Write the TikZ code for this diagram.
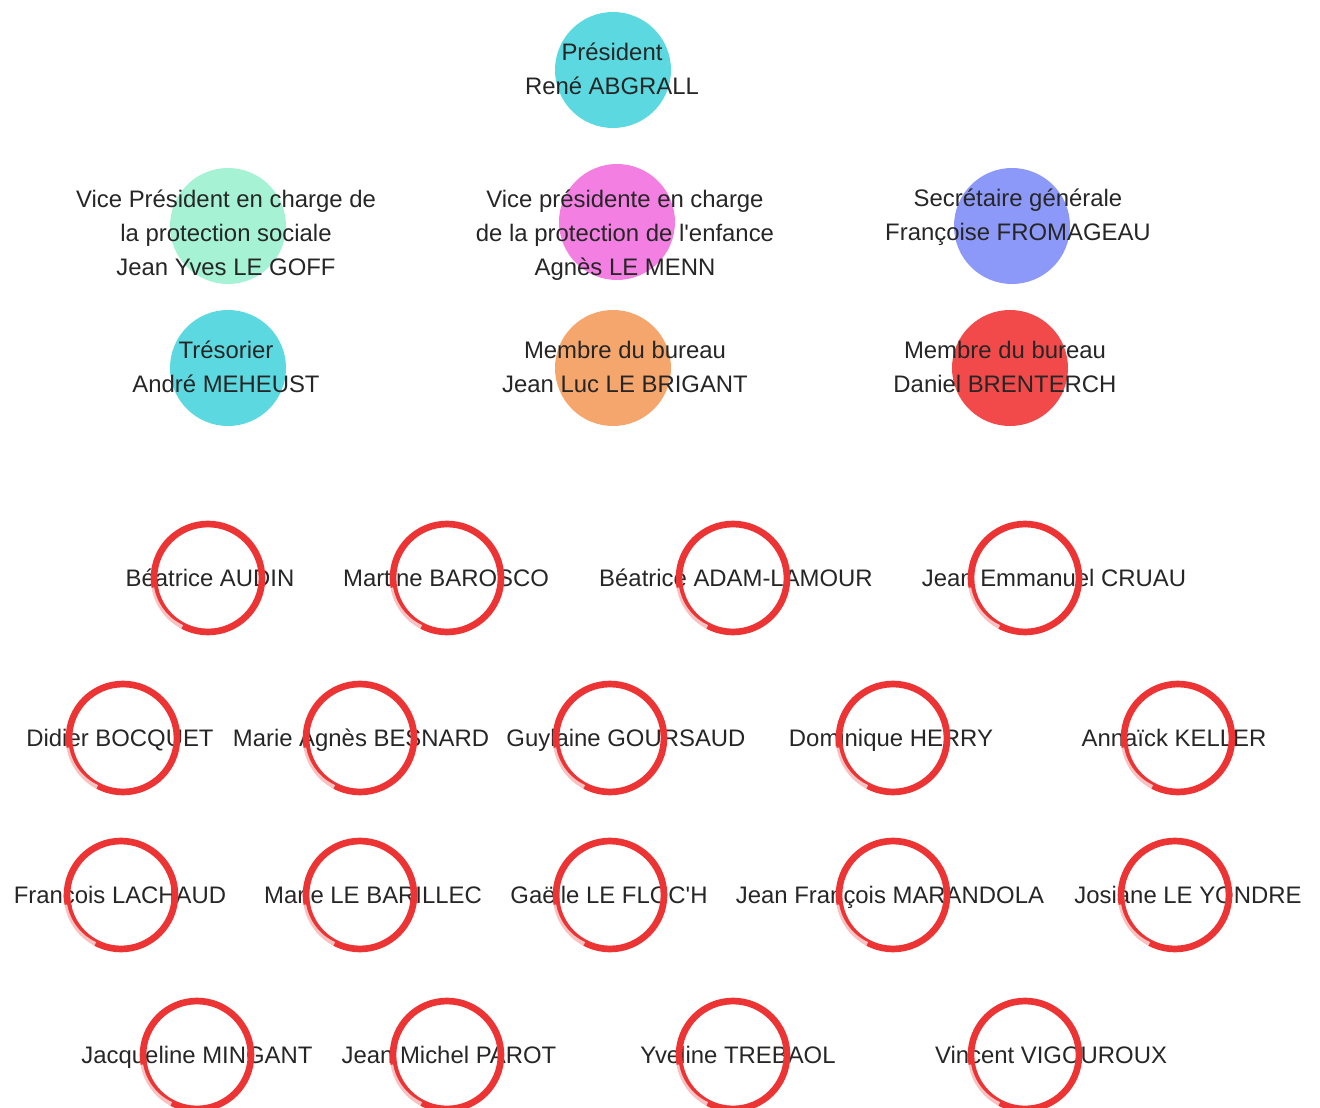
\documentclass[tikz,border=0pt]{standalone}
\usepackage{fontspec}
\setmainfont{Liberation Sans}
\usetikzlibrary{calc}

\definecolor{txtgray}{HTML}{262626}
\definecolor{presblue}{HTML}{5CD9E0}
\definecolor{mint}{HTML}{A6F2D5}
\definecolor{pinky}{HTML}{F47FE2}
\definecolor{lavblue}{HTML}{8C99F8}
\definecolor{orangey}{HTML}{F5A66C}
\definecolor{redfill}{HTML}{F24A4A}
\definecolor{ringred}{HTML}{EC3434}

\tikzset{
  blob/.style={circle, minimum size=2.32cm, inner sep=0pt},
  ring/.style={circle, draw=ringred, line width=3.8pt, minimum size=2.16cm, inner sep=0pt},
  lbl/.style={text=txtgray, align=center, anchor=base, font=\fontsize{13.6}{19.6}\selectfont},
}

\begin{document}
\begin{tikzpicture}[x=0.02cm, y=-0.02cm]
    \useasboundingbox (0,0) rectangle (1320,1108);

    % Bureau
    \node[blob, fill=presblue] (presC) at (613,70) {};
    \node[blob, fill=mint] (vp1C) at (228,226) {};
    \node[blob, fill=pinky] (vp2C) at (617,222) {};
    \node[blob, fill=lavblue] (secC) at (1012,226) {};
    \node[blob, fill=presblue] (tresC) at (228,368) {};
    \node[blob, fill=orangey] (mb1C) at (613,368) {};
    \node[blob, fill=redfill] (mb2C) at (1010,368) {};

    % (base = baseline of the last line)
    \node[lbl] (pres) at (612,95) {Président\\René ABGRALL};
    \node[lbl] (vp1) at (226,276) {Vice Président en charge de\\la protection sociale\\Jean Yves LE GOFF};
    \node[lbl] (vp2) at (625,276) {Vice présidente en charge\\de la protection de l\textquotesingle enfance\\Agnès LE MENN};
    \node[lbl] (sec) at (1018,241) {Secrétaire générale\\Françoise FROMAGEAU};
    \node[lbl] (tres) at (226,393) {Trésorier\\André MEHEUST};
    \node[lbl] (mb1) at (625,393) {Membre du bureau\\Jean Luc LE BRIGANT};
    \node[lbl] (mb2) at (1005,393) {Membre du bureau\\Daniel BRENTERCH};

    % Membres - ligne 1
    \node[lbl] (audin) at (210,586) {Béatrice AUDIN};
    \node[lbl] (barosco) at (446,586) {Martine BAROSCO};
    \node[lbl] (adam) at (736,586) {Béatrice ADAM-LAMOUR};
    \node[lbl] (cruau) at (1054,586) {Jean Emmanuel CRUAU};
    \node[ring] (rAudin) at (208,578) {};
    \node[ring] (rBarosco) at (447,578) {};
    \node[ring] (rAdam) at (733,578) {};
    \node[ring] (rCruau) at (1025,578) {};

    % Membres - ligne 2
    \node[lbl] (bocquet) at (120,746) {Didier BOCQUET};
    \node[lbl] (besnard) at (361,746) {Marie Agnès BESNARD};
    \node[lbl] (goursaud) at (626,746) {Guylaine GOURSAUD};
    \node[lbl] (herry) at (891,746) {Dominique HERRY};
    \node[lbl] (keller) at (1174,746) {Annaïck KELLER};
    \node[ring] (rBocquet) at (123,738) {};
    \node[ring] (rBesnard) at (360,738) {};
    \node[ring] (rGoursaud) at (610,738) {};
    \node[ring] (rHerry) at (893,738) {};
    \node[ring] (rKeller) at (1178,738) {};

    % Membres - ligne 3
    \node[lbl] (lachaud) at (120,903) {François LACHAUD};
    \node[lbl] (barillec) at (373,903) {Marie LE BARILLEC};
    \node[lbl] (floch) at (609,903) {Gaëlle LE FLOC\textquotesingle H};
    \node[lbl] (marandola) at (890,903) {Jean François MARANDOLA};
    \node[lbl] (yondre) at (1188,903) {Josiane LE YONDRE};
    \node[ring] (rLachaud) at (121,895) {};
    \node[ring] (rBarillec) at (360,895) {};
    \node[ring] (rFloch) at (610,895) {};
    \node[ring] (rMarandola) at (893,895) {};
    \node[ring] (rYondre) at (1175,895) {};

    % Membres - ligne 4
    \node[lbl] (mingant) at (197,1063) {Jacqueline MINGANT};
    \node[lbl] (parot) at (449,1063) {Jean Michel PAROT};
    \node[lbl] (trebaol) at (738,1063) {Yveline TREBAOL};
    \node[lbl] (vigouroux) at (1051,1063) {Vincent VIGOUROUX};
    \node[ring] (rMingant) at (197,1055) {};
    \node[ring] (rParot) at (447,1055) {};
    \node[ring] (rTrebaol) at (733,1055) {};
    \node[ring] (rVigouroux) at (1025,1055) {};

    % faded brush end of each ring
    \foreach \r in {rAudin,rBarosco,rAdam,rCruau,rBocquet,rBesnard,rGoursaud,rHerry,rKeller,
                    rLachaud,rBarillec,rFloch,rMarandola,rYondre,rMingant,rParot,rTrebaol,rVigouroux}
        \draw[white, opacity=0.7, line width=3pt] (\r.190) arc (190:245:1.08cm);
\end{tikzpicture}
\end{document}
